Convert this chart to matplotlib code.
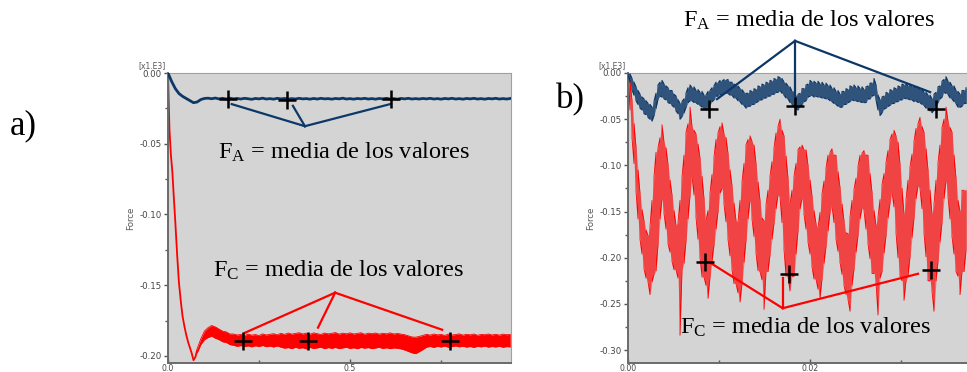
import numpy as np
import matplotlib
matplotlib.use("Agg")
import matplotlib.pyplot as plt
from matplotlib.ticker import MultipleLocator, FormatStrFormatter

plt.rcParams['mathtext.fontset'] = 'custom'
plt.rcParams['mathtext.rm'] = 'Liberation Serif'
plt.rcParams['mathtext.it'] = 'Liberation Serif:italic'

# ---------------- data : panel a ----------------
blue_a = [0.000, -0.006, -0.011, -0.0145, -0.0165, -0.018, -0.0195, -0.021, -0.0205, -0.0188,
          -0.0180, -0.0178, -0.0182, -0.0177, -0.0183, -0.0179, -0.0184, -0.0178, -0.0183, -0.0180,
          -0.0184, -0.0179, -0.0182, -0.0186, -0.0180, -0.0183, -0.0178, -0.0184, -0.0181, -0.0185,
          -0.0179, -0.0183, -0.0180, -0.0185, -0.0181, -0.0184, -0.0179, -0.0183, -0.0181, -0.0185,
          -0.0180, -0.0184, -0.0179, -0.0183, -0.0181, -0.0185, -0.0180, -0.0183, -0.0178, -0.0184,
          -0.0181, -0.0185, -0.0180, -0.0183, -0.0179, -0.0184, -0.0181, -0.0185, -0.0180, -0.0183,
          -0.0179, -0.0184, -0.0181, -0.0185, -0.0180, -0.0183, -0.0179, -0.0184, -0.0181, -0.0184,
          -0.0180, -0.0183, -0.0179, -0.0184, -0.0181, -0.0185, -0.0180, -0.0183, -0.0179, -0.0184,
          -0.0181, -0.0185, -0.0180, -0.0183, -0.0179, -0.0184, -0.0181, -0.0185, -0.0180, -0.0183,
          -0.0179, -0.0184, -0.0181, -0.0184, -0.0180]
t_blue_a = np.linspace(0.0, 0.94, len(blue_a))

t_red_a_drop = [0.000, 0.004, 0.008, 0.012, 0.016, 0.020, 0.025, 0.030, 0.035, 0.040,
                0.045, 0.050, 0.055, 0.060, 0.065, 0.070, 0.075, 0.080]
red_a_drop = [0.000, -0.040, -0.058, -0.070, -0.088, -0.105, -0.128, -0.148, -0.161, -0.172,
              -0.179, -0.185, -0.190, -0.194, -0.198, -0.203, -0.201, -0.196]

red_a_hi = [-0.195, -0.188, -0.1825, -0.180, -0.1785, -0.1795, -0.181, -0.1825, -0.183, -0.1845,
            -0.1845, -0.1852, -0.1848, -0.1855, -0.1846, -0.1853, -0.1849, -0.1856, -0.1844, -0.1852,
            -0.1847, -0.1843, -0.1851,
            -0.1840, -0.1848, -0.1838, -0.1846, -0.1841, -0.1836, -0.1845, -0.1839, -0.1847, -0.1837,
            -0.1843, -0.1848, -0.1838, -0.1844, -0.1840, -0.1835, -0.1846, -0.1839, -0.1844, -0.1837,
            -0.1845, -0.1841, -0.1836, -0.1847, -0.1839, -0.1843, -0.1838, -0.1846, -0.1840, -0.1844,
            -0.1837, -0.1845, -0.1841, -0.1846,
            -0.1850, -0.1858, -0.1866, -0.1868, -0.1862, -0.1855,
            -0.1847, -0.1853, -0.1845, -0.1851, -0.1848, -0.1855, -0.1846, -0.1852, -0.1849, -0.1844,
            -0.1853, -0.1847, -0.1851, -0.1845, -0.1854, -0.1848, -0.1850, -0.1845, -0.1852, -0.1847,
            -0.1853, -0.1846, -0.1850, -0.1848]
red_a_lo = [-0.198, -0.192, -0.1885, -0.187, -0.186, -0.1875, -0.1885, -0.190, -0.1905, -0.192,
            -0.1925, -0.1932, -0.1927, -0.1934, -0.1929, -0.1936, -0.1928, -0.1933, -0.1926, -0.1935,
            -0.1930, -0.1937, -0.1929,
            -0.1938, -0.1945, -0.1941, -0.1948, -0.1939, -0.1946, -0.1942, -0.1950, -0.1940, -0.1947,
            -0.1943, -0.1938, -0.1949, -0.1941, -0.1946, -0.1940, -0.1948, -0.1943, -0.1939, -0.1947,
            -0.1942, -0.1949, -0.1940, -0.1945, -0.1941, -0.1948, -0.1944, -0.1939, -0.1947, -0.1942,
            -0.1949, -0.1943, -0.1946, -0.1950,
            -0.1958, -0.1968, -0.1978, -0.1984, -0.1970, -0.1955,
            -0.1938, -0.1933, -0.1940, -0.1932, -0.1937, -0.1930, -0.1939, -0.1934, -0.1929, -0.1936,
            -0.1931, -0.1938, -0.1933, -0.1940, -0.1932, -0.1936, -0.1930, -0.1938, -0.1933, -0.1937,
            -0.1931, -0.1939, -0.1934, -0.1936]
t_red_a_band = np.linspace(0.08, 0.94, len(red_a_hi))

# mean markers and leader lines (panel a)
fa_a_t = [0.165, 0.327, 0.613]
fa_a_v = [-0.0184, -0.0191, -0.0184]
fa_a_apex = (0.376, -0.0376)
fa_a_ends_t = [0.175, 0.343, 0.610]
fa_a_ends_v = [-0.022, -0.0232, -0.022]

fc_a_t = [0.206, 0.385, 0.775]
fc_a_v = [-0.1894, -0.1894, -0.1894]
fc_a_apex = (0.459, -0.1553)
fc_a_ends_t = [0.2115, 0.412, 0.753]
fc_a_ends_v = [-0.1836, -0.180, -0.1815]

# ---------------- data : panel b (upper / lower envelope of the dense signal) ----------------
red_b_up = [0.000, -0.008, -0.030, -0.055, -0.080, -0.105, -0.130, -0.148, -0.160, -0.170,
            -0.176, -0.166, -0.138, -0.112, -0.086, -0.081, -0.070, -0.056, -0.075, -0.081,
            -0.099, -0.116, -0.132, -0.149, -0.165, -0.162, -0.138, -0.113, -0.089, -0.064,
            -0.055, -0.037, -0.058, -0.062, -0.066, -0.077, -0.092, -0.112, -0.136, -0.160,
            -0.149, -0.130, -0.110, -0.091, -0.072, -0.065, -0.058, -0.054, -0.066, -0.070,
            -0.087, -0.105, -0.122, -0.141, -0.160, -0.161, -0.138, -0.118, -0.098, -0.078,
            -0.072, -0.068, -0.074, -0.078, -0.098, -0.118, -0.138, -0.157, -0.160, -0.143,
            -0.127, -0.112, -0.096, -0.081, -0.065, -0.058, -0.050, -0.062, -0.068, -0.090,
            -0.114, -0.142, -0.127, -0.112, -0.098, -0.083, -0.080, -0.078, -0.083, -0.083,
            -0.100, -0.116, -0.133, -0.149, -0.163, -0.168, -0.151, -0.131, -0.117, -0.103,
            -0.089, -0.086, -0.082, -0.089, -0.089, -0.107, -0.124, -0.142, -0.160, -0.173,
            -0.174, -0.156, -0.138, -0.126, -0.114, -0.101, -0.089, -0.087, -0.084, -0.089,
            -0.089, -0.109, -0.129, -0.149, -0.165, -0.156, -0.137, -0.121, -0.109, -0.097,
            -0.084, -0.072, -0.066, -0.062, -0.068, -0.075, -0.099, -0.125, -0.153, -0.137,
            -0.116, -0.102, -0.088, -0.074, -0.060, -0.055, -0.048, -0.058, -0.064, -0.082,
            -0.105, -0.127, -0.153, -0.142, -0.116, -0.097, -0.078, -0.059, -0.050, -0.037,
            -0.052, -0.059, -0.064, -0.089, -0.114, -0.138, -0.150, -0.127, -0.127, -0.127]
red_b_lo = [-0.004, -0.040, -0.070, -0.098, -0.128, -0.158, -0.180, -0.196, -0.212, -0.222,
            -0.226, -0.240, -0.226, -0.218, -0.214, -0.186, -0.158, -0.136, -0.152, -0.169,
            -0.185, -0.194, -0.204, -0.213, -0.213, -0.222, -0.284, -0.213, -0.206, -0.182,
            -0.158, -0.133, -0.112, -0.132, -0.156, -0.180, -0.200, -0.221, -0.221, -0.230,
            -0.244, -0.221, -0.204, -0.186, -0.169, -0.150, -0.130, -0.125, -0.142, -0.161,
            -0.180, -0.198, -0.213, -0.228, -0.228, -0.238, -0.248, -0.228, -0.205, -0.181,
            -0.158, -0.138, -0.158, -0.177, -0.195, -0.214, -0.215, -0.224, -0.256, -0.215,
            -0.215, -0.197, -0.180, -0.163, -0.147, -0.132, -0.134, -0.162, -0.191, -0.220,
            -0.220, -0.236, -0.220, -0.220, -0.196, -0.171, -0.147, -0.136, -0.153, -0.169,
            -0.183, -0.196, -0.210, -0.223, -0.223, -0.234, -0.244, -0.223, -0.206, -0.188,
            -0.171, -0.151, -0.144, -0.162, -0.180, -0.193, -0.205, -0.218, -0.230, -0.240,
            -0.245, -0.258, -0.230, -0.212, -0.194, -0.176, -0.158, -0.146, -0.149, -0.169,
            -0.185, -0.201, -0.217, -0.217, -0.227, -0.262, -0.222, -0.215, -0.195, -0.176,
            -0.157, -0.141, -0.129, -0.145, -0.173, -0.200, -0.220, -0.225, -0.246, -0.225,
            -0.220, -0.199, -0.178, -0.157, -0.136, -0.122, -0.125, -0.147, -0.173, -0.199,
            -0.225, -0.225, -0.236, -0.258, -0.225, -0.204, -0.183, -0.162, -0.136, -0.117,
            -0.134, -0.158, -0.177, -0.196, -0.215, -0.220, -0.240, -0.215, -0.215, -0.192]
blue_b_up = [0.000, -0.001, -0.006, -0.010, -0.015, -0.019, -0.023, -0.026, -0.028, -0.030,
             -0.033, -0.034, -0.037, -0.031, -0.022, -0.013, -0.010, -0.008, -0.012, -0.014,
             -0.016, -0.019, -0.019, -0.023, -0.025, -0.029, -0.033, -0.031, -0.028, -0.022,
             -0.016, -0.013, -0.016, -0.015, -0.019, -0.018, -0.021, -0.020, -0.024, -0.024,
             -0.020, -0.019, -0.016, -0.014, -0.010, -0.011, -0.008, -0.009, -0.007, -0.008,
             -0.007, -0.010, -0.010, -0.012, -0.013, -0.014, -0.017, -0.018, -0.021, -0.022,
             -0.022, -0.019, -0.020, -0.017, -0.018, -0.014, -0.015, -0.012, -0.013, -0.010,
             -0.011, -0.008, -0.009, -0.006, -0.007, -0.004, -0.005, -0.006, -0.010, -0.011,
             -0.014, -0.015, -0.020, -0.020, -0.025, -0.023, -0.022, -0.017, -0.017, -0.013,
             -0.012, -0.008, -0.010, -0.009, -0.011, -0.009, -0.012, -0.010, -0.013, -0.011,
             -0.014, -0.013, -0.017, -0.016, -0.020, -0.019, -0.023, -0.020, -0.020, -0.017,
             -0.018, -0.014, -0.015, -0.013, -0.016, -0.014, -0.017, -0.015, -0.018, -0.015,
             -0.014, -0.011, -0.011, -0.006, -0.013, -0.024, -0.029, -0.026, -0.025, -0.021,
             -0.022, -0.018, -0.019, -0.016, -0.017, -0.014, -0.015, -0.012, -0.013, -0.011,
             -0.014, -0.012, -0.015, -0.014, -0.016, -0.015, -0.018, -0.017, -0.021, -0.021,
             -0.024, -0.024, -0.028, -0.023, -0.021, -0.015, -0.014, -0.009, -0.007, -0.004,
             -0.009, -0.010, -0.014, -0.014, -0.019, -0.020, -0.023, -0.019, -0.019, -0.016]
blue_b_lo = [-0.002, -0.010, -0.018, -0.024, -0.030, -0.034, -0.038, -0.040, -0.044, -0.045,
             -0.048, -0.050, -0.052, -0.046, -0.038, -0.028, -0.025, -0.026, -0.028, -0.029,
             -0.032, -0.033, -0.035, -0.037, -0.041, -0.044, -0.050, -0.047, -0.043, -0.037,
             -0.032, -0.030, -0.030, -0.032, -0.032, -0.034, -0.035, -0.037, -0.039, -0.040,
             -0.037, -0.034, -0.031, -0.029, -0.025, -0.025, -0.023, -0.024, -0.022, -0.022,
             -0.022, -0.024, -0.024, -0.027, -0.027, -0.030, -0.031, -0.034, -0.035, -0.038,
             -0.036, -0.036, -0.034, -0.034, -0.032, -0.031, -0.029, -0.029, -0.027, -0.027,
             -0.025, -0.025, -0.023, -0.023, -0.021, -0.021, -0.019, -0.022, -0.024, -0.027,
             -0.028, -0.032, -0.034, -0.037, -0.039, -0.040, -0.036, -0.034, -0.031, -0.030,
             -0.026, -0.025, -0.024, -0.026, -0.025, -0.026, -0.026, -0.027, -0.027, -0.028,
             -0.028, -0.030, -0.031, -0.033, -0.034, -0.036, -0.037, -0.037, -0.034, -0.034,
             -0.032, -0.031, -0.029, -0.030, -0.030, -0.031, -0.031, -0.032, -0.032, -0.032,
             -0.028, -0.028, -0.025, -0.024, -0.029, -0.040, -0.046, -0.043, -0.039, -0.038,
             -0.036, -0.035, -0.033, -0.033, -0.031, -0.031, -0.029, -0.029, -0.027, -0.028,
             -0.028, -0.029, -0.029, -0.031, -0.030, -0.032, -0.032, -0.034, -0.035, -0.038,
             -0.038, -0.041, -0.043, -0.040, -0.035, -0.032, -0.028, -0.026, -0.021, -0.022,
             -0.023, -0.027, -0.028, -0.031, -0.033, -0.037, -0.037, -0.036, -0.033, -0.033]
t_b = np.linspace(0.0, 0.03714, len(red_b_up))

fa_b_t = [0.0089, 0.01835, 0.03385]
fa_b_v = [-0.0391, -0.0359, -0.0391]
fa_b_apex = (0.01835, 0.0348)
fa_b_ends_t = [0.00978, 0.01835, 0.0332]
fa_b_ends_v = [-0.0283, -0.025, -0.0207]

fc_b_t = [0.00846, 0.01769, 0.03326]
fc_b_v = [-0.205, -0.2174, -0.2138]
fc_b_apex = (0.0170, -0.2547)
fc_b_ends_t = [0.0092, 0.0170, 0.03187]
fc_b_ends_v = [-0.2065, -0.222, -0.2174]

ANNOT = "= media de los valores"

# ---------------- figure ----------------
RED = '#ff0000'
NAVY = '#0c3868'
BG = '#d4d4d4'
TICKC = '#555555'
SERIF = 'Liberation Serif'
TXT = 17.5

fig = plt.figure(figsize=(9.67, 3.72), dpi=100)
fig.patch.set_facecolor('white')

ax1 = fig.add_axes([168/967, 1-363/372, (511-168)/967, (363-73)/372])
ax2 = fig.add_axes([628/967, 1-363/372, (967-628)/967, (363-73)/372])


def style(ax, xmaj, xmin, xfmt, ymaj, ymin, yfmt):
    ax.set_facecolor(BG)
    ax.xaxis.set_major_locator(MultipleLocator(xmaj))
    ax.xaxis.set_minor_locator(MultipleLocator(xmin))
    ax.yaxis.set_major_locator(MultipleLocator(ymaj))
    ax.yaxis.set_minor_locator(MultipleLocator(ymin))
    ax.xaxis.set_major_formatter(FormatStrFormatter(xfmt))
    ax.yaxis.set_major_formatter(FormatStrFormatter(yfmt))
    ax.tick_params(axis='y', which='both', direction='out', colors=TICKC, labelsize=6.2,
                   labelcolor='#444444', pad=1.5, width=1.0)
    ax.tick_params(axis='x', which='both', direction='in', colors=TICKC, labelsize=5.6,
                   labelcolor='#444444', pad=0.8, width=1.0)
    ax.tick_params(which='major', length=3)
    ax.tick_params(which='minor', length=2)
    for s in ('left', 'bottom'):
        ax.spines[s].set_color('#6a6a6a')
        ax.spines[s].set_linewidth(1.4)
    for s in ('top', 'right'):
        ax.spines[s].set_color('#a0a0a0')
        ax.spines[s].set_linewidth(0.8)
    ax.set_ylabel('Force', fontsize=6.2, color='#555555', labelpad=3)
    ax.annotate('[x1.E3]', xy=(0, 1), xycoords='axes fraction', xytext=(-2, 2),
                textcoords='offset points', ha='right', va='bottom',
                fontsize=5.5, color='#555555')


def interleave(t, up, lo):
    tt, yy = [], []
    for k, (a, u, l) in enumerate(zip(t, up, lo)):
        tt += [a, a]
        yy += [u, l] if k % 2 == 0 else [l, u]
    return tt, yy


# ---- panel a ----
style(ax1, 0.5, 0.25, '%.1f', 0.05, 0.025, '%.2f')
ax1.set_xlim(0.0, 0.942)
ax1.set_ylim(-0.205, 0.0)
ax1.fill_between(t_red_a_band, red_a_lo, red_a_hi, color=RED, lw=0, zorder=2)
ax1.plot(t_red_a_band, red_a_hi, color=RED, lw=0.6, zorder=2)
ax1.plot(t_red_a_band, red_a_lo, color=RED, lw=0.6, zorder=2)
ax1.plot(t_red_a_drop, red_a_drop, color=RED, lw=1.3, zorder=2)
ax1.plot(t_blue_a, blue_a, color=NAVY, lw=2.0, zorder=3)

for et, ev in zip(fa_a_ends_t, fa_a_ends_v):
    ax1.plot([fa_a_apex[0], et], [fa_a_apex[1], ev], color=NAVY, lw=1.6, zorder=4)
for et, ev in zip(fc_a_ends_t, fc_a_ends_v):
    ax1.plot([fc_a_apex[0], et], [fc_a_apex[1], ev], color=RED, lw=1.6, zorder=4)
ax1.plot(fa_a_t, fa_a_v, ls='none', marker='+', ms=13, mew=1.8, color='black', zorder=5)
ax1.plot(fc_a_t, fc_a_v, ls='none', marker='+', ms=13, mew=1.8, color='black', zorder=5)

ax1.text(0.137, -0.056, r'F$_{\mathrm{A}}$ ' + ANNOT, fontsize=TXT, family=SERIF,
         ha='left', va='center', zorder=6)
ax1.text(0.124, -0.1397, r'F$_{\mathrm{C}}$ ' + ANNOT, fontsize=TXT, family=SERIF,
         ha='left', va='center', zorder=6)

# ---- panel b ----
style(ax2, 0.02, 0.01, '%.2f', 0.05, 0.025, '%.2f')
ax2.set_xlim(0.0, 0.03725)
ax2.set_ylim(-0.314, 0.0)
ax2.fill_between(t_b, red_b_lo, red_b_up, color=RED, alpha=0.45, lw=0, zorder=2)
tr, yr = interleave(t_b, red_b_up, red_b_lo)
ax2.plot(tr, yr, color=RED, lw=0.6, zorder=2)
ax2.fill_between(t_b, blue_b_lo, blue_b_up, color=NAVY, alpha=0.6, lw=0, zorder=3)
tb, yb = interleave(t_b, blue_b_up, blue_b_lo)
ax2.plot(tb, yb, color=NAVY, lw=0.8, zorder=3)

for et, ev in zip(fa_b_ends_t, fa_b_ends_v):
    ax2.plot([fa_b_apex[0], et], [fa_b_apex[1], ev], color=NAVY, lw=1.6, zorder=4,
             clip_on=False)
for et, ev in zip(fc_b_ends_t, fc_b_ends_v):
    ax2.plot([fc_b_apex[0], et], [fc_b_apex[1], ev], color=RED, lw=1.6, zorder=4)
ax2.plot(fa_b_t, fa_b_v, ls='none', marker='+', ms=13, mew=1.8, color='black', zorder=5)
ax2.plot(fc_b_t, fc_b_v, ls='none', marker='+', ms=13, mew=1.8, color='black', zorder=5)

ax2.text(0.00604, 0.0565, r'F$_{\mathrm{A}}$ ' + ANNOT, fontsize=TXT, family=SERIF,
         ha='left', va='center', zorder=6, clip_on=False)
ax2.text(0.00571, -0.275, r'F$_{\mathrm{C}}$ ' + ANNOT, fontsize=TXT, family=SERIF,
         ha='left', va='center', zorder=6)

fig.text(10/967, 1-126/372, 'a)', fontsize=25, family=SERIF, ha='left', va='center')
fig.text(556/967, 1-100/372, 'b)', fontsize=25, family=SERIF, ha='left', va='center')

fig.savefig('out.png', dpi=100, facecolor='white')
